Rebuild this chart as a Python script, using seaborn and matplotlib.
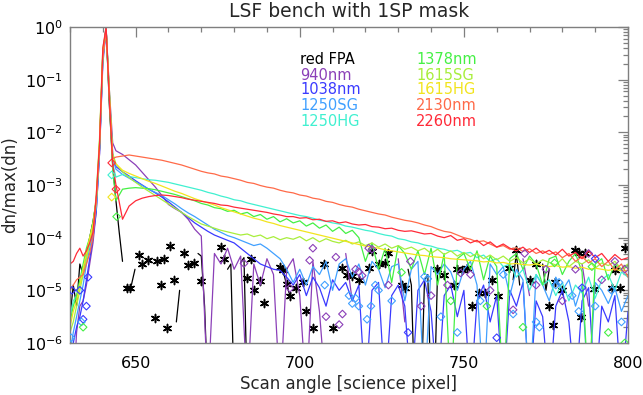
import numpy as np
import pandas as pd
import matplotlib
matplotlib.use("Agg")
import matplotlib.pyplot as plt
import seaborn as sns
from matplotlib.ticker import (FixedLocator, LogFormatterMathtext, MultipleLocator,
                               NullFormatter)

nan = np.nan

# ---------------- data (log10 of dn/max(dn)) ----------------
# sample positions: 630..644 every pixel, then 646..800 every 2 pixels
scan_px = list(range(630, 645)) + list(range(646, 801, 2))

s940 = [-6.2, -7, -5.8, -5.3, -5.2, -4.9, -4.5, -4.1, -3.5, -2.4, -0.6, -0.02, -1.2, -2.2, -2.35,
        -2.42, -2.52, -2.62, -2.76, -2.9, -3.04, -3.2, -3.37, -3.45, -3.52, -3.65, -3.84, -3.97,
        -7, -4.3, -4.5, -4.2, -4.6, -4.35, -7, -4.5, -4.9, -4.4, -4.7, -7, -4.6,
        -4.4, -5.1, -7, -4.45, -5.4, -7, nan, nan, -4.3, -5.2, nan, nan, nan,
        nan, nan, nan, -4.4, -5.6, nan, nan, nan, nan, nan, nan, nan, nan,
        nan, nan, nan, nan, nan, nan, nan, nan, nan, -4.4, -5.1, nan, nan,
        nan, nan, nan, nan, nan, -4.5, -5.3, nan, nan, nan, nan, nan, nan]

s1038 = [-6.5, -6.0, -5.7, -5.5, -5.2, -4.8, -4.4, -4.0, -3.5, -2.4, -0.7, -0.05, -1.3, -2.4, -2.65,
         -2.75, -2.83, -2.92, -3.0, -3.08, -3.15, -3.23, -3.32, -3.42, -3.52, -3.62, -3.72, -3.8,
         -3.88, -3.95, -4.0, -4.05, -4.1, -4.2, -4.3, -4.4, -4.5, -4.55, -4.6, -4.62, -4.75,
         -4.9, -4.7, -5.1, -4.75, -4.95, -5.3, -4.8, -5.0, -4.85, -5.2, -4.9, -7, -5.0,
         -4.85, -7, -5.1, -4.9, -5.3, -7, -5.0, -4.8, -5.4, -7, -5.1, -4.9, -5.5,
         -5.0, -7, -5.2, -4.9, -5.6, -5.1, -7, -5.0, -5.3, -4.85, -7, -5.2, -5.5,
         -7, -5.3, -5.0, -5.6, -7, -5.2, -4.95, -7, -5.3, -5.6, -5.1, -7, -5.4]

s1250sg = [-6.2, -5.8, -5.5, -5.2, -4.9, -4.5, -4.2, -3.9, -3.4, -2.3, -0.6, -0.05, -1.3, -2.5, -2.7,
           -2.8, -2.87, -2.94, -3.01, -3.08, -3.14, -3.2, -3.28, -3.36, -3.45, -3.53, -3.6, -3.68,
           -3.76, -3.84, -3.9, -3.96, -4.0, -4.05, -4.1, -4.15, -4.12, -4.2, -4.3, -4.4, -4.6,
           -4.85, -4.6, -4.9, -4.55, -4.7, -4.45, -5.0, -4.5, -4.4, -4.75, -4.5, -4.9, -4.45,
           -4.6, -4.95, -4.55, -4.5, -5.2, -4.6, -4.45, -7, -4.55, -4.7, -4.5, -4.65, -5.0,
           -4.6, -4.45, -4.9, -7, -4.5, -4.7, -4.55, -5.1, -4.6, -4.8, -7, -4.7, -4.9,
           -5.2, -4.75, -5.0, -4.8, -5.3, -4.9, -7, -4.85, -5.0, -5.25, -4.95, -5.4, -5.1]

s1250hg = [-5.5, -5.2, -5.1, -4.9, -4.7, -4.4, -4.1, -3.8, -3.4, -2.3, -0.6, -0.02, -1.3, -2.6, -2.85,
           -2.8, -2.84, -2.86, -2.88, -2.9, -2.91, -2.93, -2.95, -2.98, -3.01, -3.04, -3.07, -3.1,
           -3.14, -3.17, -3.21, -3.24, -3.28, -3.3, -3.34, -3.37, -3.4, -3.43, -3.46, -3.49, -3.52,
           -3.55, -3.58, -3.6, -3.63, -3.67, -3.69, -3.72, -3.74, -3.78, -3.8, -3.83, -3.86, -3.88,
           -3.92, -3.95, -3.97, -4.02, -4.04, -4.08, -4.1, -4.14, -4.16, -4.2, -4.22, -4.26, -4.24,
           -4.3, -4.28, -4.38, -4.33, -4.45, -4.4, -4.55, -4.5, -4.75, -4.6, -5.0, -4.7, -4.9,
           -4.8, -5.1, -4.85, -5.2, -4.9, -5.05, -4.75, -5.15, -4.8, -4.7, -5.0, -4.65, -4.75]

s1378 = [-5.6, -5.3, -5.1, -4.8, -4.5, -4.2, -4.0, -3.7, -3.3, -2.2, -0.5, -0.1, -1.4, -2.7, -3.3,
         -3.08, -3.06, -3.05, -3.06, -3.07, -3.09, -3.12, -3.15, -3.18, -3.22, -3.26, -3.3, -3.35,
         -3.38, -3.43, -3.45, -3.5, -3.48, -3.55, -3.52, -3.6, -3.56, -3.65, -3.6, -3.7, -3.64,
         -3.72, -3.68, -3.78, -3.72, -3.82, -3.76, -3.88, -3.8, -3.92, -3.86, -4.0, -4.45, -4.1,
         -4.6, -4.2, -4.85, -4.15, -4.3, -4.6, -4.25, -4.7, -4.2, -4.9, -4.3, -7, -4.4,
         -4.3, -4.6, -4.25, -4.8, -4.35, -4.55, -7, -4.4, -4.3, -4.6, -4.35, -4.5, -4.9,
         -4.4, -4.35, -4.7, -4.45, -4.3, -4.65, -7, -4.5, -4.4, -4.8, -4.5, -4.6, -4.55]

s1615sg = [-5.8, -5.6, -5.3, -5.0, -4.7, -4.4, -4.1, -3.8, -3.2, -2.1, -0.4, -0.05, -1.2, -2.4, -2.6,
           -2.75, -2.86, -2.95, -3.04, -3.12, -3.2, -3.28, -3.36, -3.44, -3.52, -3.6, -3.67, -3.74,
           -3.78, -3.82, -3.86, -3.89, -3.92, -3.95, -3.93, -3.98, -3.95, -4.02, -3.98, -4.04, -4.0,
           -4.03, -3.98, -4.06, -4.0, -4.08, -4.02, -4.07, -4.1, -4.05, -4.12, -4.08, -4.15, -4.1,
           -4.18, -4.12, -4.2, -4.15, -4.22, -4.18, -4.25, -4.2, -4.3, -4.22, -4.32, -4.25, -4.35,
           -4.28, -4.36, -4.3, -4.4, -4.33, -4.42, -4.35, -4.45, -4.38, -4.48, -4.4, -4.5, -4.42,
           -4.47, -4.52, -4.4, -4.55, -4.45, -4.5, -4.42, -4.58, -4.48, -4.53, -4.45, -4.6, -4.5]

s1615hg = [-5.7, -5.4, -5.2, -4.9, -4.6, -4.3, -4.0, -3.75, -3.3, -2.2, -0.5, -0.05, -1.3, -2.5, -2.6,
           -2.72, -2.78, -2.83, -2.88, -2.93, -2.97, -3.02, -3.07, -3.12, -3.16, -3.21, -3.26, -3.3,
           -3.34, -3.38, -3.43, -3.47, -3.51, -3.55, -3.59, -3.63, -3.66, -3.7, -3.73, -3.77, -3.8,
           -3.83, -3.86, -3.89, -3.92, -3.95, -3.98, -4.01, -4.04, -4.07, -4.1, -4.13, -4.16, -4.18,
           -4.2, -4.23, -4.25, -4.27, -4.29, -4.31, -4.33, -4.34, -4.36, -4.37, -4.38, -4.4, -4.41,
           -4.42, -4.43, -4.44, -4.46, -4.45, -4.48, -4.47, -4.5, -4.49, -4.51, -4.52, -4.5, -4.53,
           -4.55, -4.53, -4.56, -4.55, -4.58, -4.56, -4.6, -4.58, -4.6, -4.62, -4.6, -4.63, -4.62]

s2130 = [-5.0, -4.9, -4.8, -4.75, -4.7, -4.5, -4.3, -4.0, -3.3, -2.3, -0.6, -0.05, -1.3, -2.5, -2.47,
         -2.45, -2.43, -2.45, -2.47, -2.49, -2.51, -2.53, -2.56, -2.59, -2.62, -2.66, -2.7, -2.74,
         -2.77, -2.79, -2.83, -2.85, -2.88, -2.91, -2.95, -2.97, -3.01, -3.04, -3.06, -3.1, -3.13,
         -3.15, -3.19, -3.21, -3.25, -3.27, -3.31, -3.33, -3.37, -3.4, -3.42, -3.46, -3.49, -3.52,
         -3.55, -3.57, -3.61, -3.64, -3.67, -3.69, -3.72, -3.76, -3.79, -3.84, -3.88, -3.9, -3.95,
         -4.0, -4.03, -4.08, -4.06, -4.12, -4.18, -4.15, -4.22, -4.19, -4.26, -4.21, -4.3, -4.25,
         -4.32, -4.27, -4.38, -4.3, -4.45, -4.36, -4.48, -4.4, -4.55, -4.45, -4.62, -4.5, -4.75]

s2260 = [-4.5, -4.45, -4.3, -4.2, -4.35, -4.25, -4.1, -3.9, -3.2, -2.2, -0.4, 0.0, -1.4, -2.6, -3.0,
         -3.65, -3.4, -3.3, -3.25, -3.22, -3.2, -3.19, -3.2, -3.22, -3.24, -3.27, -3.29, -3.31,
         -3.33, -3.35, -3.38, -3.39, -3.42, -3.44, -3.46, -3.48, -3.5, -3.52, -3.55, -3.57, -3.6,
         -3.6, -3.63, -3.62, -3.66, -3.65, -3.69, -3.68, -3.72, -3.7, -3.74, -3.76, -3.75, -3.79,
         -3.8, -3.83, -3.82, -3.86, -3.88, -3.87, -3.9, -3.93, -3.92, -3.97, -4.0, -3.96, -4.05,
         -4.02, -4.1, -4.05, -4.15, -4.08, -4.18, -4.12, -4.2, -4.25, -4.18, -4.28, -4.2, -4.3,
         -4.24, -4.33, -4.22, -4.35, -4.28, -4.4, -4.25, -4.38, -4.3, -4.45, -4.32, -4.42, -4.38]

# red FPA: line segments (nan = break) and isolated samples (asterisks)
fpa_line_x = [630, 631, 632, 633, 634, 635, 636, 637, 638, 639, 640, 641, 642, 643, 644, 645, 646, 647,
              648.7, 649.8, 655, 662.4, 663.4, 666, 669, 670, 671, 672, 675, 678, 679, 680, 681,
              682, 683, 684, 690, 694, 695, 696, 697, 720, 733, 734, 735, 736, 737, 738, 739, 740,
              740.5, 741, 742, 743, 750, 765, 766, 767, 770, 774, 775, 776]
fpa_line_y = [-5.5, -4.9, -5.3, -4.5, -4.7, -4.3, -4.0, -3.7, -3.3, -2.3, -0.5, 0.0, -1.5, -2.6, -3.3, -3.9, -4.45, nan,
              -4.9, -4.6, nan, -5.6, -5.0, nan, -4.3, -4.35, -5.3, -7, nan, -4.6, -4.5, -7, nan,
              -4.47, -4.38, -7, nan, -4.55, -4.65, -4.9, -5.1, nan, -4.6, -4.9, -7, nan, -7, -4.8, -4.7, -7,
              nan, -7, -4.6, -4.75, nan, -4.8, -4.3, -4.9, nan, -4.5, -5.0, -4.6]
fpa_pts_x = [647.4, 648.4, 651, 651.8, 653.8, 655.8, 656.6, 657.7, 658.6, 659.7, 660.6, 661.8, 664.8,
             665.8, 667.7, 669.8, 676, 677, 684, 685, 686, 688, 689, 694, 695, 696, 697, 699, 701, 702,
             704, 707.5, 710, 713, 714.5, 716, 718, 721, 722, 724, 726, 727, 731, 732, 741.8, 744, 747,
             748, 749.5, 751, 752.6, 754.6, 756.5, 758.7, 760.5, 763.8, 766, 770, 772, 776, 777, 777.8,
             780, 783.9, 785, 785.8, 787, 789.7, 795, 796, 797.6, 799]
fpa_pts_y = [-4.95, -4.95, -4.33, -4.5, -4.43, -5.53, -4.45, -4.9, -4.4, -5.72, -4.16, -4.8, -4.3,
             -4.52, -4.49, -4.83, -4.17, -4.4, -4.76, -4.4, -5.0, -4.83, -5.25, -4.55, -4.62, -4.88, -5.1,
             -4.95, -4.85, -5.4, -5.72, -4.5, -5.72, -4.57, -4.7, -4.72, -4.8, -4.57, -4.26, -4.5, -4.48,
             -4.3, -4.9, -4.95, -4.6, -4.7, -4.9, -4.6, -4.62, -4.58, -5.3, -5.05, -5.05, -4.8, -5.1, -4.57,
             -4.23, -4.8, -4.5, -5.3, -5.65, -4.85, -5.0, -4.23, -4.3, -5.5, -4.3, -4.97, -4.95, -4.62,
             -4.95, -4.2]

# isolated samples shown as diamonds
d940_x = [683, 697, 703, 704, 708, 711, 712, 713, 717, 718, 719, 721, 722, 727, 733.7, 737, 740, 745,
          749, 752, 758, 765, 768.5, 772, 775, 780, 784, 788, 792, 796, 799]
d940_y = [-4.49, -4.96, -4.43, -4.2, -5.5, -4.37, -5.65, -5.45, -4.6, -4.65, -4.72, -4.2, -4.22, -4.9,
          -4.45, -5.3, -5.1, -4.9, -4.67, -4.7, -5.0, -5.37, -4.3, -4.9, -4.6, -5.2, -4.6, -4.3, -4.8,
          -4.45, -4.6]
d1250sg_x = [630.3, 633.5, 707.6, 715, 716, 717, 718, 720.5, 721.7, 723, 724, 728, 738, 739, 743, 748,
             755, 762, 765, 772, 773, 778, 779, 783, 785, 790, 795, 798]
d1250sg_y = [-5.9, -5.6, -4.9, -5.1, -5.25, -5.15, -5.3, -5.55, -5.3, -4.9, -5.0, -5.2, -4.74, -4.78,
             -5.5, -5.8, -5.2, -4.7, -5.45, -5.6, -5.7, -4.9, -4.85, -5.1, -5.4, -5.3, -5.0, -5.6]
d1038_x = [630.6, 633, 634, 635, 635.5, 733, 760, 786, 790]
d1038_y = [-5.0, -5.0, -5.55, -5.3, -4.75, -5.8, -5.9, -4.95, -4.4]
d1378_x = [634, 644.2, 731, 746, 757, 768, 777.6, 789, 794, 799]
d1378_y = [-5.7, -3.6, -4.66, -5.2, -5.3, -5.7, -4.48, -4.55, -5.8, -6.0]
d1250hg_x = [642.7]
d1250hg_y = [-2.81]
d1615hg_x = [642.7]
d1615hg_y = [-3.23]
d2260_x = [642.7, 644]
d2260_y = [-2.58, -3.08]

names = ["red FPA", "940nm", "1038nm", "1250SG", "1250HG",
         "1378nm", "1615SG", "1615HG", "2130nm", "2260nm"]
colors = ["#000000", "#8b3fb8", "#3a3aff", "#40a0ff", "#40f0d0",
          "#44f044", "#a8ee3c", "#f2e41e", "#ff6a48", "#ff2a38"]
y_decades = [1e-6, 1e-5, 1e-4, 1e-3, 1e-2, 1e-1, 1e0]

# ---------------- figure ----------------
sns.set_theme(style="white")
plt.rcParams['font.family'] = ['DejaVu Sans']

W, H = 643, 395
fig = plt.figure(figsize=(W / 100, H / 100), dpi=100)
ax = fig.add_axes([70 / W, 1 - 343 / H, 558 / W, 316 / H])


def draw_line(xs, logs, color, z):
    df = pd.DataFrame({"x": xs, "ly": logs})
    df["seg"] = df["ly"].isna().cumsum()
    df = df.dropna()
    df["y"] = 10.0 ** df["ly"]
    sns.lineplot(data=df, x="x", y="y", units="seg", estimator=None, sort=False,
                 color=color, lw=0.9, ax=ax, legend=False, zorder=z)


def draw_pts(xs, logs, color, kind, z):
    df = pd.DataFrame({"x": xs, "y": 10.0 ** np.array(logs, dtype=float)})
    if kind == "star":
        sns.scatterplot(data=df, x="x", y="y", marker=(6, 2, 0), s=34, linewidth=1.1,
                        facecolor=color, edgecolor=color, ax=ax, legend=False, zorder=z)
    else:
        sns.scatterplot(data=df, x="x", y="y", marker="D", s=15, linewidth=0.8,
                        facecolor="none", edgecolor=color, ax=ax, legend=False, zorder=z)


grid_series = [s940, s1038, s1250sg, s1250hg, s1378, s1615sg, s1615hg, s2130, s2260]

# red FPA first
draw_line(fpa_line_x, fpa_line_y, colors[0], 2)
draw_pts(fpa_pts_x, fpa_pts_y, colors[0], "star", 2)
for i, s in enumerate(grid_series):
    draw_line(scan_px, s, colors[i + 1], 2 + 0.01 * (i + 1))

draw_pts(d940_x, d940_y, colors[1], "dia", 3)
draw_pts(d1038_x, d1038_y, colors[2], "dia", 3)
draw_pts(d1250sg_x, d1250sg_y, colors[3], "dia", 3)
draw_pts(d1250hg_x, d1250hg_y, colors[4], "dia", 3)
draw_pts(d1378_x, d1378_y, colors[5], "dia", 3)
draw_pts(d1615hg_x, d1615hg_y, colors[7], "dia", 3)
draw_pts(d2260_x, d2260_y, colors[9], "dia", 3)

ax.set_yscale("log")
ax.set_xlim(630, 800)
ax.set_ylim(1e-6, 1)

ax.xaxis.set_major_locator(MultipleLocator(50))
ax.xaxis.set_minor_locator(MultipleLocator(10))
ax.yaxis.set_major_locator(FixedLocator(y_decades))
ax.yaxis.set_minor_locator(FixedLocator([m * d for d in y_decades[:-1] for m in range(2, 10)]))
ax.yaxis.set_major_formatter(LogFormatterMathtext())
ax.yaxis.set_minor_formatter(NullFormatter())

axis_grey = "#7f7f7f"
ax.tick_params(which="both", direction="in", top=True, right=True,
               color=axis_grey, labelcolor="black", labelsize=11.5, width=0.9)
ax.tick_params(which="major", length=7)
ax.tick_params(which="minor", length=3.5)
ax.tick_params(axis="x", pad=9)
ax.tick_params(axis="y", pad=5)
for sp in ax.spines.values():
    sp.set_color(axis_grey)
    sp.set_linewidth(1.0)

ax.set_xlabel("Scan angle [science pixel]", fontsize=12, labelpad=3)
ax.set_ylabel("dn/max(dn)", fontsize=12, labelpad=4)
ax.set_title("LSF bench with 1SP mask", fontsize=13.5, pad=7)

# colour-coded text legend
col_x = [300, 416]
row_y = [59, 75, 90, 106, 121]
for k, (nm, c) in enumerate(zip(names, colors)):
    fig.text(col_x[k // 5] / W, 1 - row_y[k % 5] / H, nm, color=c,
             fontsize=10.5, ha="left", va="center")

fig.savefig("out.png", dpi=100, facecolor="white")
